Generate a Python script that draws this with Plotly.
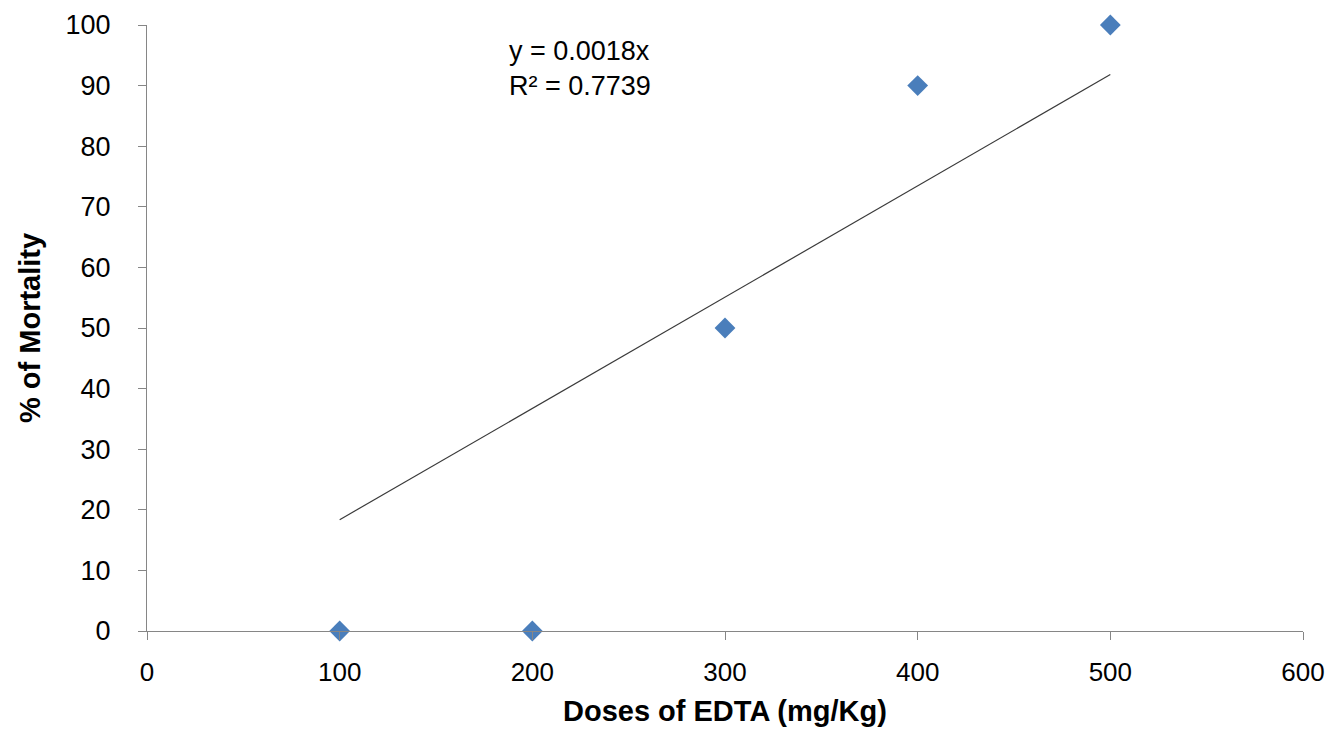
import plotly.graph_objects as go
import numpy as np

doses = [100, 200, 300, 400, 500]
mortality = [0, 0, 50, 90, 100]
eq_text = "y = 0.0018x<br>R² = 0.7739"
x_title = "Doses of EDTA (mg/Kg)"
y_title = "% of Mortality"

# linear trendline through origin (least squares)
xa = np.array(doses, dtype=float)
ya = np.array(mortality, dtype=float)
slope = float((xa * ya).sum() / (xa * xa).sum())
trend_x = [min(doses), max(doses)]
trend_y = [slope * v for v in trend_x]

axis_col = "#868686"
font_fam = "Liberation Sans, Arial, sans-serif"

fig = go.Figure()
fig.add_trace(go.Scatter(x=trend_x, y=trend_y, mode="lines",
                         line=dict(color="#3a3a3a", width=1.2),
                         showlegend=False, hoverinfo="skip"))
fig.add_trace(go.Scatter(x=doses, y=mortality, mode="markers",
                         marker=dict(symbol="diamond", size=16, color="#4A7EBB",
                                     line=dict(width=0)),
                         cliponaxis=False, showlegend=False))

fig.add_annotation(x=187, y=98.5, xref="x", yref="y", text=eq_text,
                   showarrow=False, xanchor="left", yanchor="top", align="left",
                   font=dict(family=font_fam, size=27, color="#000"))
fig.add_annotation(x=0.5, y=-(711 - 631) / 606, xref="paper", yref="paper",
                   text="<b>" + x_title + "</b>", showarrow=False,
                   xanchor="center", yanchor="middle",
                   font=dict(family=font_fam, size=29, color="#000"))
fig.add_annotation(x=-(147 - 30) / 1156, y=0.5, xref="paper", yref="paper",
                   text="<b>" + y_title + "</b>", showarrow=False, textangle=-90,
                   xanchor="center", yanchor="middle",
                   font=dict(family=font_fam, size=29, color="#000"))

fig.update_layout(
    width=1329, height=729,
    margin=dict(l=147, r=26, t=25, b=98),
    plot_bgcolor="white", paper_bgcolor="white",
    font=dict(family=font_fam, size=27, color="#000"),
)
fig.update_xaxes(range=[0, 600], tickvals=[0, 100, 200, 300, 400, 500, 600],
                 showgrid=False, zeroline=False, showline=True, linecolor=axis_col,
                 linewidth=1, ticks="outside", ticklen=8, tickcolor=axis_col,
                 ticklabelstandoff=10, tickfont=dict(size=26), automargin=False)
fig.update_yaxes(range=[0, 100], tickvals=list(range(0, 101, 10)),
                 showgrid=False, zeroline=False, showline=True, linecolor=axis_col,
                 linewidth=1, ticks="outside", ticklen=8, tickcolor=axis_col,
                 ticklabelstandoff=22, tickfont=dict(size=27), automargin=False)

fig.write_html("out.html", config={"displayModeBar": False},
               post_script="document.body.style.margin='0';document.body.style.padding='0';")
